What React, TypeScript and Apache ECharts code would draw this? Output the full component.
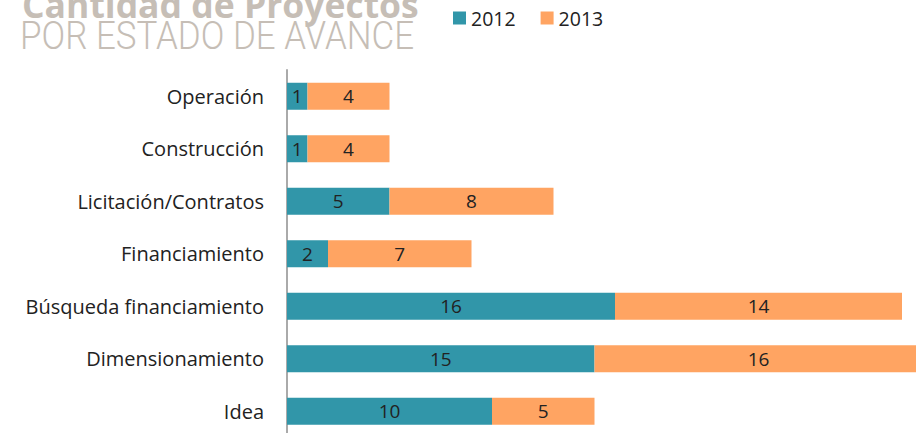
import React, { useEffect, useRef } from "react";
import * as echarts from "echarts";

const categories = [
  "Operación",
  "Construcción",
  "Licitación/Contratos",
  "Financiamiento",
  "Búsqueda financiamiento",
  "Dimensionamiento",
  "Idea",
];
const values2012 = [1, 1, 5, 2, 16, 15, 10];
const values2013 = [4, 4, 8, 7, 14, 16, 5];
const seriesNames = ["2012", "2013"];
const titleMain = "Cantidad de Proyectos";
const titleSub = "POR ESTADO DE AVANCE";

const TEAL = "#3196a9";
const ORANGE = "#ffa462";
const TITLE_GRAY = "#c6beb6";

export default function App() {
  const ref = useRef<HTMLDivElement>(null);
  useEffect(() => {
    if (!ref.current) return;
    document.body.style.overflow = "hidden";
    const chart = echarts.init(ref.current, null, { renderer: "svg" });
    const labelStyle = {
      show: true,
      position: "inside" as const,
      color: "#222",
      fontFamily: "Open Sans",
      fontSize: 19,
    };
    chart.setOption({
      animation: false,
      backgroundColor: "#fff",
      textStyle: { fontFamily: "Open Sans" },
      graphic: [
        {
          type: "text",
          x: 22,
          y: 4,
          style: {
            text: titleMain,
            fill: TITLE_GRAY,
            font: "bold 35.5px 'Open Sans'",
            verticalAlign: "middle",
          },
        },
        {
          type: "text",
          x: 20,
          y: 36,
          scaleX: 0.92,
          style: {
            text: titleSub,
            fill: TITLE_GRAY,
            font: "300 38px 'Roboto'",
            verticalAlign: "middle",
          },
        },
      ],
      legend: {
        left: 453,
        top: 8,
        padding: 0,
        itemWidth: 13,
        itemHeight: 13,
        itemGap: 25,
        icon: "rect",
        textStyle: { color: "#222", fontSize: 19.5, fontFamily: "Open Sans" },
        data: seriesNames,
      },
      grid: { left: 287, top: 70, width: 31 * 20.5, height: 367.5, containLabel: false },
      xAxis: { type: "value", min: 0, max: 31, show: false },
      yAxis: {
        type: "category",
        inverse: true,
        data: categories,
        axisLine: { show: true, lineStyle: { color: "#aaa", width: 2 } },
        axisTick: { show: false },
        axisLabel: { color: "#222", fontSize: 20, fontFamily: "Open Sans", margin: 23 },
        splitLine: { show: false },
      },
      series: [
        {
          name: seriesNames[0],
          type: "bar",
          stack: "total",
          barWidth: 27,
          itemStyle: { color: TEAL },
          label: labelStyle,
          data: values2012,
        },
        {
          name: seriesNames[1],
          type: "bar",
          stack: "total",
          barWidth: 27,
          itemStyle: { color: ORANGE },
          label: labelStyle,
          data: values2013,
        },
      ],
    });
    return () => chart.dispose();
  }, []);
  return (
    <div
      ref={ref}
      style={{ position: "absolute", left: 0, top: 0, width: 960, height: 470 }}
    />
  );
}
